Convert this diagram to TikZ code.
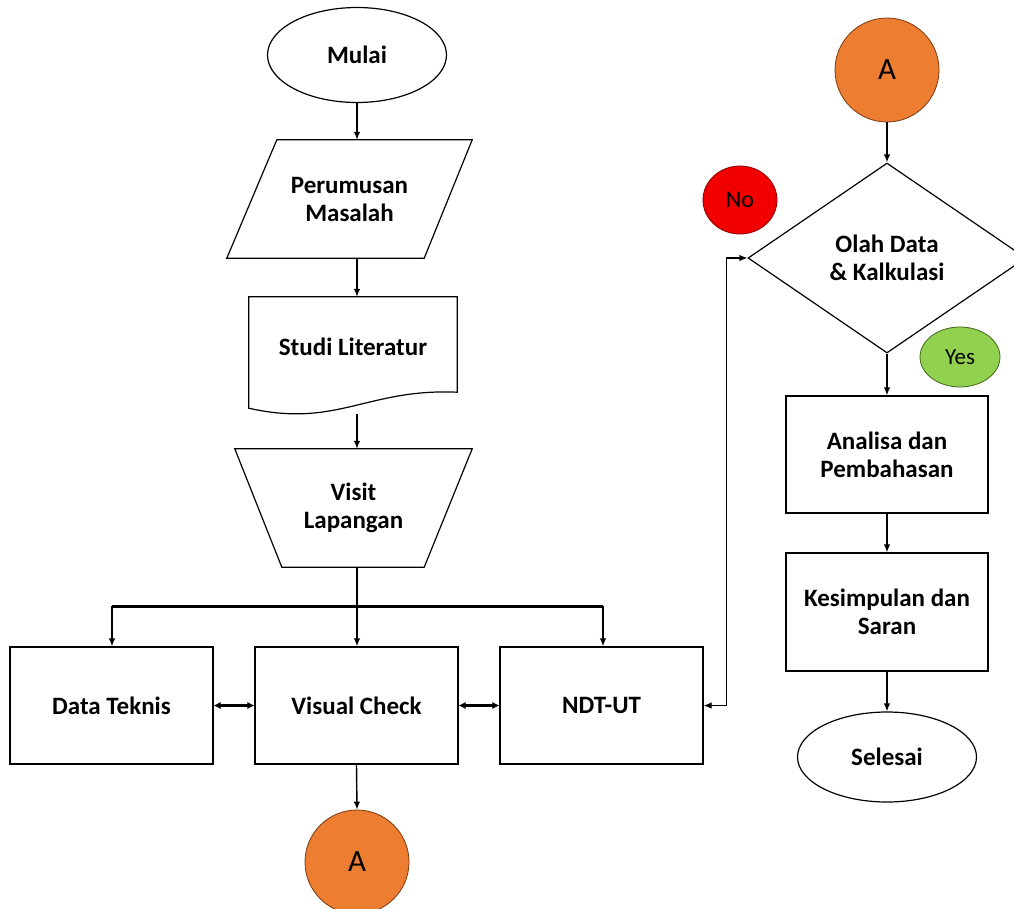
\documentclass[tikz,border=0pt]{standalone}
\usepackage{fontspec}
\setmainfont{Carlito}
\usetikzlibrary{shapes.geometric,arrows.meta}
\definecolor{orangeA}{HTML}{ED7D31}
\definecolor{orangeD}{HTML}{7A3A10}
\definecolor{redN}{HTML}{F20000}
\definecolor{redD}{HTML}{8A0000}
\definecolor{greenY}{HTML}{92D050}
\definecolor{greenD}{HTML}{3F6B1A}
\begin{document}
\begin{tikzpicture}[x=1pt,y=-1pt,
  lbl/.style={font=\fontsize{25}{28}\selectfont\bfseries, align=center},
  shp/.style={draw, line width=1.2pt},
  frame/.style={rectangle, inner sep=0pt, lbl},
  box/.style={rectangle, shp, minimum width=203pt, minimum height=117pt, inner sep=0pt, lbl},
  oval/.style={ellipse, shp, minimum width=179pt, inner sep=0pt, lbl},
  conn/.style={circle, draw=orangeD, line width=0.8pt, fill=orangeA, minimum size=104pt, inner sep=0pt, font=\fontsize{31}{36}\selectfont},
  arr/.style={line width=1.4pt, -{Latex[length=8pt,width=6.5pt]}},
  dbl/.style={line width=2.6pt, {Latex[length=7pt,width=7.5pt]}-{Latex[length=7pt,width=7.5pt]}},
  arrs/.style={line width=1.2pt, {Latex[length=8pt,width=6.5pt]}-{Latex[length=8pt,width=6.5pt]}},
  bus/.style={line width=3pt}
]
\clip (0,0) rectangle (1014,908);
\fill[white] (0,0) rectangle (1014,908);

% left column
\node[oval, minimum height=95pt] (mulai) at (357,55) {Mulai};
\coordinate (col) at (357,0);

\node[frame, minimum width=245pt, minimum height=118pt] (per) at (349.5,199) {Perumusan\\Masalah};
\draw[shp] ([xshift=50pt]per.north west) -- (per.north east) -- ([xshift=-48pt]per.south east) -- (per.south west) -- cycle;

\node[frame, minimum width=208pt, minimum height=117pt] (studi) at (353,355.5) {};
\node[lbl] at (353,347) {Studi Literatur};
\draw[shp] (studi.north west) -- (studi.north east) -- ([yshift=22pt]studi.south east)
  .. controls ([xshift=-90pt,yshift=26pt]studi.south east) and ([xshift=-120pt,yshift=-14pt]studi.south east) .. ([yshift=6pt]studi.south west) -- cycle;

\node[frame, minimum width=237pt, minimum height=118pt] (visit) at (353.5,508) {Visit\\Lapangan};
\draw[shp] (visit.north west) -- (visit.north east) -- ([xshift=-48pt]visit.south east) -- ([xshift=47pt]visit.south west) -- cycle;

\node[box] (dt) at (111.5,705.5) {Data Teknis};
\node[box] (vc) at (356.5,705.5) {Visual Check};
\node[box] (ndt) at (601.5,705.5) {NDT-UT};

\node[conn] (a2) at (357,862) {A};

\draw[arr] (mulai.south -| col) -- (per.north -| col);
\draw[arr] (per.south -| col) -- (studi.north -| col);
\draw[arr] (studi.south -| col) -- (visit.north -| col);

\coordinate (busL) at (112,606);
\coordinate (busR) at (603,606);
\draw[bus] (busL) -- (busR);
\draw[arr] (busL) -- (busL |- dt.north);
\draw[arr] (busR) -- (busR |- ndt.north);
\draw[arr] (visit.south -| col) -- (vc.north -| col);

\draw[dbl] (dt.east) -- (vc.west);
\draw[dbl] (vc.east) -- (ndt.west);
\draw[arr] (vc.south) -- (a2.north);

% right column
\node[conn] (a1) at (887,70) {A};
\node[diamond, shp, aspect=1.46, minimum width=278pt, minimum height=190pt, inner sep=0pt, lbl] (dia) at (887,258) {Olah Data\\\& Kalkulasi};
\node[ellipse, draw=redD, line width=0.8pt, fill=redN, minimum width=74pt, minimum height=68pt, inner sep=0pt, font=\fontsize{24}{28}\selectfont] (no) at (740,200) {No};
\node[ellipse, draw=greenD, line width=0.8pt, fill=greenY, minimum width=80pt, minimum height=60pt, inner sep=0pt, font=\fontsize{23}{28}\selectfont] (yes) at (960,357) {Yes};

\node[box, minimum width=202pt] (ana) at (887,454.5) {Analisa dan\\Pembahasan};
\node[box, minimum width=202pt, minimum height=118pt] (kes) at (887,612) {Kesimpulan dan\\Saran};
\node[oval, minimum height=90pt] (sel) at (887,757) {Selesai};

\draw[arr] (a1.south) -- (dia.north);
\draw[arr] (dia.south) -- (ana.north);
\draw[arr] (ana.south) -- (kes.north);
\draw[arr] (kes.south) -- (sel.north);

\draw[arrs] (ndt.east) -- ++(23,0) |- (dia.west);
\end{tikzpicture}
\end{document}
